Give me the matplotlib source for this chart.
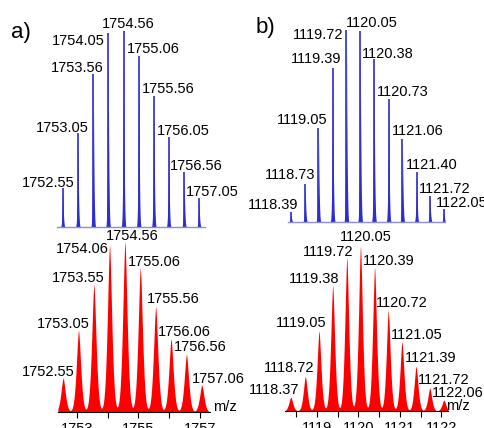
import numpy as np
import matplotlib
matplotlib.use('Agg')
import matplotlib.pyplot as plt

plt.rcParams['font.family'] = ['Liberation Sans', 'DejaVu Sans']

W, H = 485, 428

# panel a) peak lists (m/z, relative intensity)
a_blue_mz = [1752.55, 1753.05, 1753.56, 1754.05, 1754.56, 1755.06,
             1755.56, 1756.05, 1756.56, 1757.05]
a_blue_int = [0.20, 0.48, 0.78, 0.99, 1.00, 0.87, 0.67, 0.46, 0.28, 0.15]
a_red_mz = [1752.55, 1753.05, 1753.55, 1754.06, 1754.56, 1755.06,
            1755.56, 1756.06, 1756.56, 1757.06]
a_red_int = [0.20, 0.48, 0.75, 0.98, 1.00, 0.85, 0.62, 0.43, 0.34, 0.16]

# panel b)
b_blue_mz = [1118.39, 1118.73, 1119.05, 1119.39, 1119.72, 1120.05,
             1120.38, 1120.73, 1121.06, 1121.40, 1121.72, 1122.05]
b_blue_int = [0.05, 0.20, 0.49, 0.80, 1.00, 0.995, 0.85, 0.64, 0.43,
              0.26, 0.135, 0.07]
b_red_mz = [1118.37, 1118.72, 1119.05, 1119.38, 1119.72, 1120.05,
            1120.39, 1120.72, 1121.05, 1121.39, 1121.72, 1122.06]
b_red_int = [0.085, 0.21, 0.485, 0.76, 0.93, 1.00, 0.87, 0.61, 0.42,
             0.27, 0.14, 0.067]

a_ticks = [1753, 1755, 1757]
a_minor = [1754, 1756]
b_ticks = [1119, 1120, 1121, 1122]
b_minor = [1118.5, 1119.5, 1120.5, 1121.5]

# label offsets from peak tip, pixels (dx, dy)
a_blue_off = [(-41, 1), (-42, 1), (-42, 2), (-56, -12), (-22, 3),
              (-12, 3), (-12, 3), (-12, 2), (-14, 2), (-13, 2)]
a_red_off = [(-41, 2), (-42, 2), (-42, 3), (-54, -8), (-19, 2),
             (-12, 2), (-9, 4), (-13, 3), (-13, 3), (-10, 2)]
b_blue_off = [(-43, 3), (-40, 5), (-42, 4), (-42, 5), (-54, -9), (-14, 4),
              (-12, 1), (-12, 3), (-11, 4), (-11, 3), (-11, 3), (-8, 2)]
b_red_off = [(-42, 3), (-41, 4), (-43, 4), (-44, 3), (-44, 2), (-21, 5),
             (-12, 2), (-12, 3), (-11, 3), (-11, 4), (-12, 4), (-12, 3)]

BLUE = '#2e2ecc'
RED = '#ff0000'
FS = 10.5

fig = plt.figure(figsize=(W / 100, H / 100), dpi=100)


def add_panel(left, right, base, top, xlim):
    ax = fig.add_axes([left / W, 1 - base / H, (right - left) / W, (base - top) / H])
    ax.set_xlim(xlim)
    ax.set_ylim(0, 1)
    ax.patch.set_visible(False)
    for s in ['top', 'left', 'right']:
        ax.spines[s].set_visible(False)
    ax.set_yticks([])
    return ax


def label_peaks(ax, mz, inten, offsets):
    for m, h, (dx, dy) in zip(mz, inten, offsets):
        ax.annotate(f'{m:.2f}', xy=(m, h), xytext=(dx, dy),
                    textcoords='offset pixels', ha='left', va='baseline',
                    fontsize=FS, annotation_clip=False)


def blue_panel(ax, mz, inten, offsets, w):
    # narrow stick with a small concave base
    x = np.linspace(*ax.get_xlim(), 4000)
    y = np.zeros_like(x)
    for m, h in zip(mz, inten):
        y += h * np.clip(1 - np.abs(x - m) / w, 0, None) ** 4
    ax.fill_between(x, 0, y, color=BLUE, lw=0)
    ax.vlines(mz, 0, inten, color=BLUE, lw=1.2)
    ax.spines['bottom'].set_color('#8c8ce0')
    ax.spines['bottom'].set_linewidth(1.0)
    ax.set_xticks([])
    label_peaks(ax, mz, inten, offsets)


def red_panel(ax, mz, inten, offsets, s, ticks, minor):
    x = np.linspace(*ax.get_xlim(), 4000)
    y = np.zeros_like(x)
    for m, h in zip(mz, inten):
        y += h * np.exp(-(np.abs(x - m) / s) ** 1.6)
    ax.fill_between(x, 0, y, color=RED, lw=0)
    ax.spines['bottom'].set_linewidth(0.8)
    ax.set_xticks(ticks)
    ax.set_xticks(minor, minor=True)
    ax.set_xticklabels([str(t) for t in ticks])
    ax.tick_params(axis='x', which='both', direction='out', length=4,
                   width=0.8, labelsize=FS, pad=3)
    label_peaks(ax, mz, inten, offsets)
    return ax.annotate('m/z', xy=(1, 0), xycoords='axes fraction', xytext=(3, 1),
                       textcoords='offset pixels', ha='left', va='baseline',
                       fontsize=FS)


# a) top: px = 62.7 + (mz - 1752.55) * 30.3
ax = add_panel(57, 205, 227, 31, (1752.36, 1757.25))
blue_panel(ax, a_blue_mz, a_blue_int, a_blue_off, 0.10)

# a) bottom: px = 77 + (mz - 1753) * 30.75
ax = add_panel(57.9, 210.1, 412, 242, (1752.38, 1757.33))
red_panel(ax, a_red_mz, a_red_int, a_red_off, 0.102, a_ticks, a_minor)

# b) top: px = 291 + (mz - 1118.39) * 41.8
ax = add_panel(288, 445, 222, 30, (1118.32, 1122.08))
blue_panel(ax, b_blue_mz, b_blue_int, b_blue_off, 0.075)

# b) bottom: px = 317 + (mz - 1119) * 41.5
ax = add_panel(285, 448, 411, 246, (1118.23, 1122.16))
mz_label = red_panel(ax, b_red_mz, b_red_int, b_red_off, 0.068, b_ticks, b_minor)
mz_label.set_position((-2, 1))

fig.text(11 / W, 1 - 38 / H, 'a)', fontsize=16, va='baseline')
fig.text(256 / W, 1 - 33 / H, 'b)', fontsize=16, va='baseline')

fig.savefig('out.png', dpi=100)
